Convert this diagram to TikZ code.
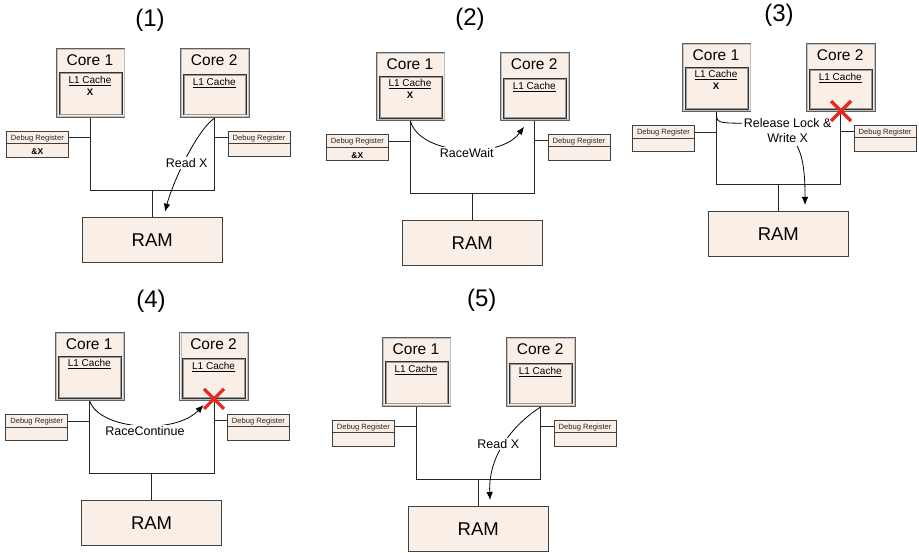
\documentclass[tikz,border=0pt]{standalone}
\usepackage{fontspec}
\setmainfont{Liberation Sans}
\usetikzlibrary{arrows.meta}

\definecolor{chipfill}{RGB}{250,239,230}
\definecolor{edgegray}{RGB}{95,95,95}
\definecolor{crossred}{RGB}{226,42,30}

\tikzset{
  x=1pt, y=-1pt,
  corebox/.style={draw=edgegray, line width=1.1pt, fill=chipfill, inner sep=0pt,
    anchor=north west, minimum width=68.5pt, minimum height=68.5pt},
  coreinner/.style={draw=black!25, line width=0.6pt},
  cachebox/.style={draw=black!80, line width=0.9pt, fill=chipfill, inner sep=0pt,
    anchor=north west, minimum width=63pt},
  cacheinner/.style={draw=black!40, line width=0.5pt},
  regbox/.style={draw=black!75, line width=0.9pt, fill=chipfill, inner sep=0pt,
    anchor=north west, minimum width=62.3pt},
  rambox/.style={draw=black!75, line width=0.9pt, fill=chipfill, inner sep=0pt,
    anchor=north west, minimum width=140.3pt, minimum height=45.3pt,
    font=\fontsize{18.5}{22}\selectfont},
  bus/.style={draw=black!85, line width=0.9pt},
  coretext/.style={anchor=base, inner sep=0pt, font=\fontsize{15.5}{18}\selectfont},
  cachetext/.style={anchor=base, inner sep=0pt, font=\fontsize{10}{12}\selectfont},
  cacheval/.style={anchor=base, inner sep=0pt, font=\fontsize{9.5}{11}\selectfont\bfseries},
  valtext/.style={anchor=base, inner sep=0pt, font=\fontsize{8.5}{10}\selectfont\bfseries},
  regtext/.style={anchor=base, inner sep=0pt, font=\fontsize{7.6}{9}\selectfont, text=black!85},
  title/.style={font=\fontsize{24}{28}\selectfont},
  flow/.style={draw=black, line width=0.8pt},
  flowtip/.style={flow, -{Latex[length=8pt,width=6.5pt]}},
  flowlabel/.style={fill=white, inner sep=1.5pt, font=\fontsize{12.5}{15}\selectfont},
  cross/.style={draw=crossred, line width=3.2pt},
}

% One machine: two cores with L1 caches, a debug register beside each, a bus and RAM.
% #1 name prefix, #2/#3 top-left of core 1, #4 cached value in core 1, #5 left debug register value
\newcommand\cpupanel[5]{%
\begin{scope}[shift={(#2,#3)}]
  % cores
  \node[corebox] (#1c1) at (0,0) {};
  \node[corebox] (#1c2) at (124.3,0) {};
  \draw[coreinner] ([shift={(1.5pt,-1.5pt)}]#1c1.north west) rectangle ([shift={(-1.5pt,1.5pt)}]#1c1.south east);
  \draw[coreinner] ([shift={(1.5pt,-1.5pt)}]#1c2.north west) rectangle ([shift={(-1.5pt,1.5pt)}]#1c2.south east);
  \node[coretext] (#1n1) at (34.25,17.5) {Core 1};
  \node[coretext] (#1n2) at (158.55,17.5) {Core 2};
  % L1 caches
  \node[cachebox, minimum height=42.2pt] (#1l1) at (2.8,24) {};
  \node[cachebox, minimum height=40.2pt] (#1l2) at (127.1,26) {};
  \draw[cacheinner] ([shift={(1.4pt,-1.4pt)}]#1l1.north west) rectangle ([shift={(-1.4pt,1.4pt)}]#1l1.south east);
  \draw[cacheinner] ([shift={(1.4pt,-1.4pt)}]#1l2.north west) rectangle ([shift={(-1.4pt,1.4pt)}]#1l2.south east);
  \node[cachetext] (#1k1) at (34.25,35.3) {\underline{L1 Cache}};
  \node[cachetext] (#1k2) at (158.55,37.6) {\underline{L1 Cache}};
  \node[cacheval] (#1v1) at (34.25,46.8) {#4};
  % debug registers
  \node[regbox, minimum height=12.3pt] (#1dlt) at (-49.9,82.7) {};
  \node[regbox, minimum height=13.4pt] (#1dlv) at (-49.9,95) {};
  \node[regbox, minimum height=12.3pt] (#1drt) at (171.8,82.5) {};
  \node[regbox, minimum height=13.4pt] (#1drv) at (171.8,94.8) {};
  \node[regtext] (#1rl) at (#1dlt.center |- 0,92.3) {Debug Register};
  \node[regtext] (#1rr) at (#1drt.center |- 0,92.1) {Debug Register};
  \node[valtext] (#1vl) at (#1dlv.center |- 0,106.5) {#5};
  % RAM
  \node[rambox] (#1ram) at (26,168.3) {RAM};
  % bus
  \coordinate (#1bus) at (96.5,142);
  \draw[bus] (#1c1.south) |- (#1bus) -| (#1c2.south);
  \draw[bus] (#1bus) -- (#1bus |- #1ram.north);
  \draw[bus] (#1dlt.east) -- (#1dlt.east -| #1c1.south);
  \draw[bus] (#1drt.west) -- (#1drt.west -| #1c2.south);
\end{scope}}

\begin{document}
\begin{tikzpicture}
  \fill[white] (0,0) rectangle (919,553);
  \useasboundingbox (0,0) rectangle (919,553);

  % panel titles
  \node[title] (t1) at (150,20) {(1)};
  \node[title] (t2) at (470,19) {(2)};
  \node[title] (t3) at (779,15) {(3)};
  \node[title] (t4) at (151,301.7) {(4)};
  \node[title] (t5) at (481.7,300) {(5)};

  \cpupanel{pa}{55.7}{48.3}{X}{\&X}
  \cpupanel{pb}{375.7}{51.7}{X}{\&X}
  \cpupanel{pc}{681.7}{42.7}{X}{}
  \cpupanel{pd}{55}{331.7}{}{}
  \cpupanel{pe}{381.7}{337.3}{}{}

  % (1) core 2 reads X from RAM
  \coordinate (pae) at (165,211.7);
  \draw[flowtip] (pac2.south) .. controls (195,132) and (172,185) .. (pae);
  \node[flowlabel] (pal) at (186.7,163.3) {Read X};

  % (2) core 1 waits on the race
  \coordinate (pbe) at (524,126.7);
  \draw[flowtip] (pbc1.south) .. controls (420,155) and (500,160) .. (pbe);
  \node[flowlabel] (pbl) at (466.7,153.3) {RaceWait};

  % (3) core 1 releases the lock and writes X
  \coordinate (pca) at (746,123.3);
  \coordinate (pcb) at (797,146);
  \coordinate (pce) at (805,205);
  \draw[flow] (pcc1.south) .. controls (716.5,123) .. (pca);
  \draw[flowtip] (pcb) .. controls (805,160) and (805,185) .. (pce);
  \node[flowlabel, align=center] (pcl) at (787.7,130.8) {Release Lock \&\\Write X};
  \coordinate (pcx) at (841,111);
  \draw[cross] ([shift={(-10pt,10pt)}]pcx) -- ([shift={(10pt,-10pt)}]pcx);
  \draw[cross] ([shift={(-10pt,-10pt)}]pcx) -- ([shift={(10pt,10pt)}]pcx);

  % (4) core 2 continues
  \coordinate (pde) at (203.5,405);
  \draw[flowtip] (pdc1.south) .. controls (100,430) and (175,435) .. (pde);
  \node[flowlabel] (pdl) at (145,430.7) {RaceContinue};
  \coordinate (pdx) at (214,398.8);
  \draw[cross] ([shift={(-10pt,10pt)}]pdx) -- ([shift={(10pt,-10pt)}]pdx);
  \draw[cross] ([shift={(-10pt,-10pt)}]pdx) -- ([shift={(10pt,10pt)}]pdx);

  % (5) core 2 reads X again
  \coordinate (pee) at (490,500);
  \draw[flowtip] (pec2.south) .. controls (520,420) and (488,450) .. (pee);
  \node[flowlabel] (pel) at (498.3,444) {Read X};
\end{tikzpicture}
\end{document}
